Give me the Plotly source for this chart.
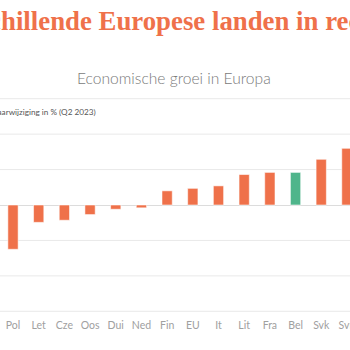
import plotly.graph_objects as go

categories = ["Pol", "Let", "Cze", "Oos", "Dui", "Ned", "Fin", "EU", "It", "Lit", "Fra", "Bel", "Svk", "Svn"]
values = [-1.25, -0.49, -0.43, -0.27, -0.12, -0.08, 0.40, 0.47, 0.54, 0.86, 0.92, 0.92, 1.29, 1.60]
highlight = "Bel"
grid_values = [-3, -2, -1, 1, 2, 3]

title_text = "Verschillende Europese landen in recessie"
subtitle_text = "Economische groei in Europa"
axis_label = "Jaar-op-jaarwijziging in % (Q2 2023)"

ORANGE = "#EF714A"
GREEN = "#4FB58B"
GRID = "#e9e9e9"
colors = [GREEN if c == highlight else ORANGE for c in categories]

fig = go.Figure()
fig.add_trace(go.Bar(
    x=categories, y=values,
    marker=dict(color=colors, line=dict(color="rgba(255,255,255,0.55)", width=1)),
    width=0.4, hoverinfo="skip",
))

for g in grid_values:
    fig.add_shape(type="line", xref="paper", yref="y", x0=0, x1=1, y0=g, y1=g,
                  line=dict(color=GRID, width=1), layer="below")

xr = [-0.506, 13.12]
fig.update_layout(
    width=350, height=350,
    margin=dict(l=0, r=0, t=98, b=38),
    paper_bgcolor="white", plot_bgcolor="white",
    showlegend=False,
    xaxis=dict(type="category", categoryorder="array", categoryarray=categories,
               range=xr, showgrid=False, zeroline=False, showline=False, ticks="",
               tickfont=dict(family="Lato", size=10.5, color="#a0a0a0"),
               ticklabelstandoff=5, automargin=False, fixedrange=True),
    xaxis2=dict(overlaying="x", anchor="free", position=0.5, range=xr,
                tickmode="linear", tick0=-0.5, dtick=1, ticks="outside", ticklen=4,
                tickcolor="#dddddd", tickwidth=1, showticklabels=False,
                showgrid=False, zeroline=False, showline=False, automargin=False),
    yaxis=dict(range=[-3.02, 3.02], tickmode="linear", tick0=0, dtick=1,
               showgrid=False,
               zeroline=True, zerolinecolor="#dcdcdc", zerolinewidth=1,
               showticklabels=False, ticks="", showline=False, automargin=False),
    annotations=[
        dict(text=f"<b>{title_text}</b>", xref="paper", yref="paper",
             x=-64.5/350, y=(350-21-38)/214, xanchor="left", yanchor="middle",
             showarrow=False, font=dict(family="Liberation Serif", size=26.8, color=ORANGE)),
        dict(text=subtitle_text, xref="paper", yref="paper",
             x=174/350, y=(350-78-38)/214, xanchor="center", yanchor="middle",
             showarrow=False, font=dict(family="Lato", size=15.6, color="#7a7a7a", weight=300)),
        dict(text=axis_label, xref="paper", yref="paper",
             x=98/350, y=(350-112-38)/214, xanchor="right", yanchor="middle",
             showarrow=False, font=dict(family="Lato", size=8.2, color="#555555")),
    ],
)

fig.write_html("out.html")
